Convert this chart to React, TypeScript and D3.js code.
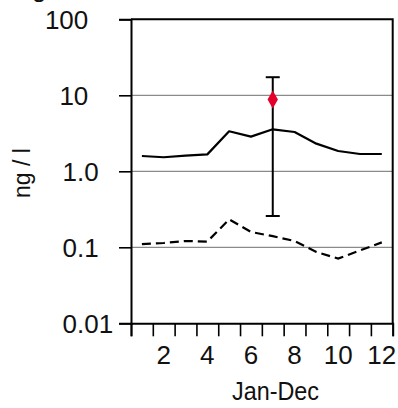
import React, { useEffect, useRef } from 'react';
import * as d3 from 'd3';

// monthly concentrations (ng / l)
const months = [1, 2, 3, 4, 5, 6, 7, 8, 9, 10, 11, 12];
const upperSeries = [1.59, 1.53, 1.61, 1.67, 3.36, 2.86, 3.57, 3.29, 2.31, 1.85, 1.69, 1.69];
const lowerSeries = [0.110, 0.114, 0.121, 0.119, 0.233, 0.159, 0.140, 0.121, 0.087, 0.071, 0.091, 0.116];

// single measurement with its range
const markerMonth = [7];
const markerValue = [8.78];
const markerLow = [0.258];
const markerHigh = [17.3];

const yTicks = [0.01, 0.1, 1, 10, 100];
const yTickLabels = ['0.01', '0.1', '1.0', '10', '100'];
const xTickLabels = [2, 4, 6, 8, 10, 12];

const width = 398;
const height = 408;
const margin = { top: 19.3, right: 5.3, bottom: 84.7, left: 131 };
const font = 'Arial, "Liberation Sans", Helvetica, sans-serif';
const fontSize = 26;

const App = () => {
  const chartRef = useRef(null);

  useEffect(() => {
    const svg = d3.select(chartRef.current);
    svg.selectAll('*').remove();

    const x = d3.scaleLinear()
      .domain([0.5, 12.5])
      .range([margin.left, width - margin.right]);

    const y = d3.scaleLog()
      .domain([0.01, 100])
      .range([height - margin.bottom, margin.top]);

    // grid
    svg.append('g')
      .selectAll('line')
      .data(yTicks.slice(1, -1))
      .join('line')
      .attr('x1', x.range()[0])
      .attr('x2', x.range()[1])
      .attr('y1', d => y(d))
      .attr('y2', d => y(d))
      .attr('stroke', '#8a8a8a')
      .attr('stroke-width', 1.2);

    // frame (top + right)
    svg.append('path')
      .attr('d', `M${x.range()[0]},${y(100)}H${x.range()[1]}V${y(0.01)}`)
      .attr('fill', 'none')
      .attr('stroke', '#000')
      .attr('stroke-width', 2);

    const line = d3.line()
      .x((d, i) => x(months[i]))
      .y(d => y(d));

    svg.append('path')
      .datum(upperSeries)
      .attr('d', line)
      .attr('fill', 'none')
      .attr('stroke', '#000')
      .attr('stroke-width', 2.2)
      .attr('stroke-linejoin', 'round');

    svg.append('path')
      .datum(lowerSeries)
      .attr('d', line)
      .attr('fill', 'none')
      .attr('stroke', '#000')
      .attr('stroke-width', 2.2)
      .attr('stroke-dasharray', '9,5');

    // error bar + marker
    const eb = svg.append('g');
    markerMonth.forEach((m, i) => {
      eb.append('line')
        .attr('x1', x(m)).attr('x2', x(m))
        .attr('y1', y(markerHigh[i])).attr('y2', y(markerLow[i]))
        .attr('stroke', '#000').attr('stroke-width', 2);
      [markerHigh[i], markerLow[i]].forEach(v => {
        eb.append('line')
          .attr('x1', x(m) - 7).attr('x2', x(m) + 7)
          .attr('y1', y(v)).attr('y2', y(v))
          .attr('stroke', '#000').attr('stroke-width', 2);
      });
      eb.append('path')
        .attr('d', d3.symbol(d3.symbolDiamond, 94)())
        .attr('transform', `translate(${x(m)},${y(markerValue[i])})`)
        .attr('fill', '#e4002b');
    });

    // y axis
    svg.append('g')
      .attr('transform', `translate(${margin.left},0)`)
      .call(d3.axisLeft(y).tickValues(yTicks).tickSize(12).tickFormat(() => ''))
      .call(g => g.selectAll('line').attr('stroke-width', 1.6))
      .call(g => g.select('.domain').attr('stroke-width', 2));

    const leftAligned = (label) => label.startsWith('0') || label === '1.0';

    svg.append('g')
      .attr('font-family', font)
      .attr('font-size', fontSize)
      .attr('fill', '#111')
      .selectAll('text')
      .data(yTicks)
      .join('text')
      .attr('x', (d, i) => (leftAligned(yTickLabels[i]) ? 62.5 : 88.3))
      .attr('text-anchor', (d, i) => (leftAligned(yTickLabels[i]) ? 'start' : 'end'))
      .attr('y', d => y(d))
      .attr('dy', '0.39em')
      .text((d, i) => yTickLabels[i]);

    // x axis
    svg.append('g')
      .attr('transform', `translate(0,${y(0.01)})`)
      .call(d3.axisBottom(x).tickValues(d3.range(0.5, 13, 1)).tickSize(13).tickFormat(() => ''))
      .call(g => g.selectAll('line').attr('stroke-width', 1.6))
      .call(g => g.select('.domain').attr('stroke-width', 2));

    svg.append('g')
      .attr('font-family', font)
      .attr('font-size', fontSize)
      .attr('fill', '#111')
      .attr('text-anchor', 'middle')
      .selectAll('text')
      .data(xTickLabels)
      .join('text')
      .attr('x', d => x(d))
      .attr('y', y(0.01) + 40.7)
      .text(d => d);

    // axis titles
    svg.append('text')
      .attr('x', 232)
      .attr('y', 399.5)
      .attr('textLength', 87)
      .attr('lengthAdjust', 'spacingAndGlyphs')
      .attr('font-family', font)
      .attr('font-size', 25)
      .attr('fill', '#111')
      .text('Jan-Dec');

    svg.append('text')
      .attr('transform', 'translate(30,173) rotate(-90)')
      .attr('text-anchor', 'middle')
      .attr('font-family', font)
      .attr('font-size', 23)
      .attr('fill', '#111')
      .text('ng / l');

    // cut-off title remnant at the top
    svg.append('text')
      .attr('x', 32)
      .attr('y', -3)
      .attr('font-family', font)
      .attr('font-size', fontSize)
      .attr('fill', '#111')
      .text('g');
  });

  return (
    <svg
      ref={chartRef}
      width={width}
      height={height}
      viewBox={`0 0 ${width} ${height}`}
      style={{ position: 'absolute', left: 0, top: 0, background: '#fff' }}
    />
  );
};

export default App;
